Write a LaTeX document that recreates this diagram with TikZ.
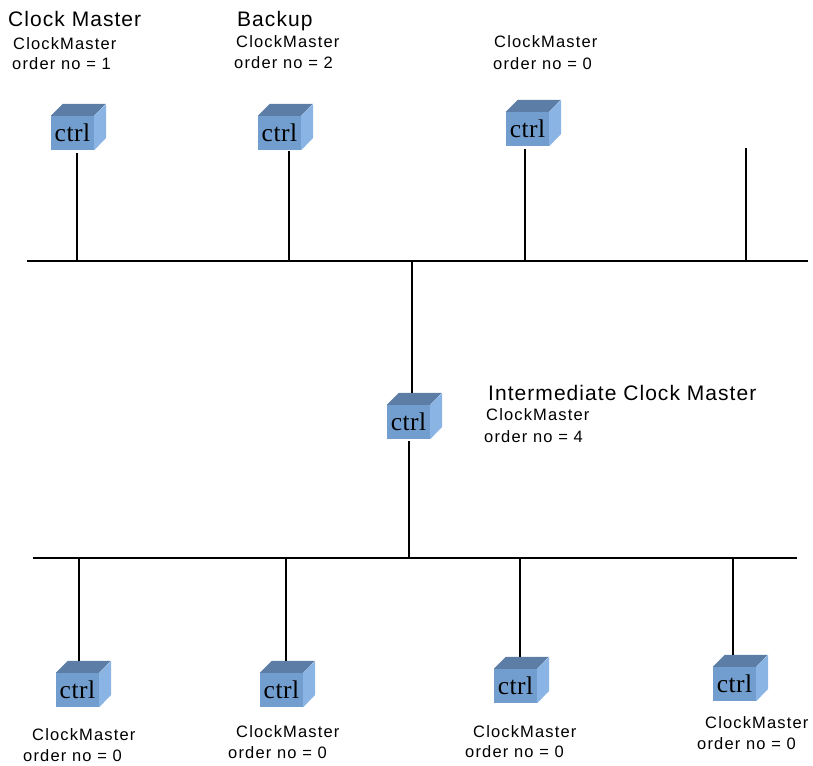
\documentclass[tikz,border=0pt]{standalone}
\usepackage{fontspec}
\setmainfont{Liberation Sans}
\newfontfamily\lblfont[LetterSpace=7]{Liberation Sans}
\newfontfamily\ttlfont[LetterSpace=5]{Liberation Sans}
\newfontfamily\ctrlfam[LetterSpace=2]{Liberation Serif}
\definecolor{cubefront}{RGB}{114,158,207}
\definecolor{cubetop}{RGB}{92,126,166}
\definecolor{cubeside}{RGB}{138,180,228}
\begin{document}
\begin{tikzpicture}[x=1pt,y=-1pt,
  cube/.style={rectangle, fill=cubefront, minimum width=43pt, minimum height=34pt, inner sep=0pt, font=\ctrlfam\fontsize{25.5}{26}\selectfont},
  lbl/.style={anchor=base west, inner sep=0pt, font=\lblfont\fontsize{16.5}{18}\selectfont},
  ttl/.style={anchor=base west, inner sep=0pt, font=\ttlfont\fontsize{21}{24}\selectfont},
  bus/.style={line width=1.6pt},
  link/.style={line width=1.4pt}]
\useasboundingbox (0,0) rectangle (813,765);

% cubes
\node[cube] (c1) at (72.5,133) {ctrl};
\node[cube] (c2) at (279.5,133) {ctrl};
\node[cube] (c3) at (527.5,129) {ctrl};
\node[cube] (m) at (408.5,422) {ctrl};
\node[cube] (b1) at (77.5,690) {ctrl};
\node[cube] (b2) at (281.5,690) {ctrl};
\node[cube] (b3) at (515.5,686) {ctrl};
\node[cube] (b4) at (734.5,684) {ctrl};
\foreach \n in {c1,c2,c3,m,b1,b2,b3,b4}{
  \fill[cubetop] (\n.north west) -- ++(12,-12) -- ++(43,0) -- (\n.north east) -- cycle;
  \fill[cubeside] (\n.north east) -- ++(12,-12) -- ++(0,34) -- (\n.south east) -- cycle;
}

% buses
\coordinate (tl) at (27,261);
\coordinate (tr) at (808,261);
\coordinate (bl) at (33,558);
\coordinate (br) at (797,558);
\draw[bus] (tl) -- (tr);
\draw[bus] (bl) -- (br);

% top drops
\coordinate (t1) at (77,261);
\coordinate (t2) at (289,261);
\coordinate (t3) at (525,261);
\coordinate (t4) at (746,261);
\coordinate (t4end) at (746,148);
\draw[link] ([yshift=-3pt]c1.south -| t1) -- (t1);
\draw[link] ([yshift=-1pt]c2.south -| t2) -- (t2);
\draw[link] ([yshift=-3pt]c3.south -| t3) -- (t3);
\draw[link] (t4end) -- (t4);

% middle
\coordinate (tm) at (412,261);
\coordinate (bm) at (409,558);
\draw[link] (tm) -- ([yshift=12pt]m.north -| tm);
\draw[link] ([yshift=-2pt]m.south -| bm) -- (bm);

% bottom drops
\coordinate (d1) at (79,558);
\coordinate (d2) at (286,558);
\coordinate (d3) at (520,558);
\coordinate (d4) at (733,558);
\draw[link] (d1) -- ([yshift=12pt]b1.north -| d1);
\draw[link] (d2) -- ([yshift=12pt]b2.north -| d2);
\draw[link] (d3) -- ([yshift=12pt]b3.north -| d3);
\draw[link] (d4) -- ([yshift=12pt]b4.north -| d4);

% labels
\node[ttl] (l1a) at (8,27) {Clock Master};
\node[lbl] (l1b) at (13,50) {ClockMaster};
\node[lbl] (l1c) at (12,70) {order no = 1};
\node[ttl] (l2a) at (237,27) {Backup};
\node[lbl] (l2b) at (236,48) {ClockMaster};
\node[lbl] (l2c) at (234,69) {order no = 2};
\node[lbl] (l3b) at (494,48) {ClockMaster};
\node[lbl] (l3c) at (493,70) {order no = 0};
\node[ttl] (lma) at (488,400) {Intermediate Clock Master};
\node[lbl] (lmb) at (486,420) {ClockMaster};
\node[lbl] (lmc) at (484,442) {order no = 4};
\node[lbl] (lb1b) at (32,740) {ClockMaster};
\node[lbl] (lb1c) at (23,761) {order no = 0};
\node[lbl] (lb2b) at (236,737) {ClockMaster};
\node[lbl] (lb2c) at (228,758) {order no = 0};
\node[lbl] (lb3b) at (473,737) {ClockMaster};
\node[lbl] (lb3c) at (465,757) {order no = 0};
\node[lbl] (lb4b) at (705,728) {ClockMaster};
\node[lbl] (lb4c) at (697,749) {order no = 0};
\end{tikzpicture}
\end{document}
